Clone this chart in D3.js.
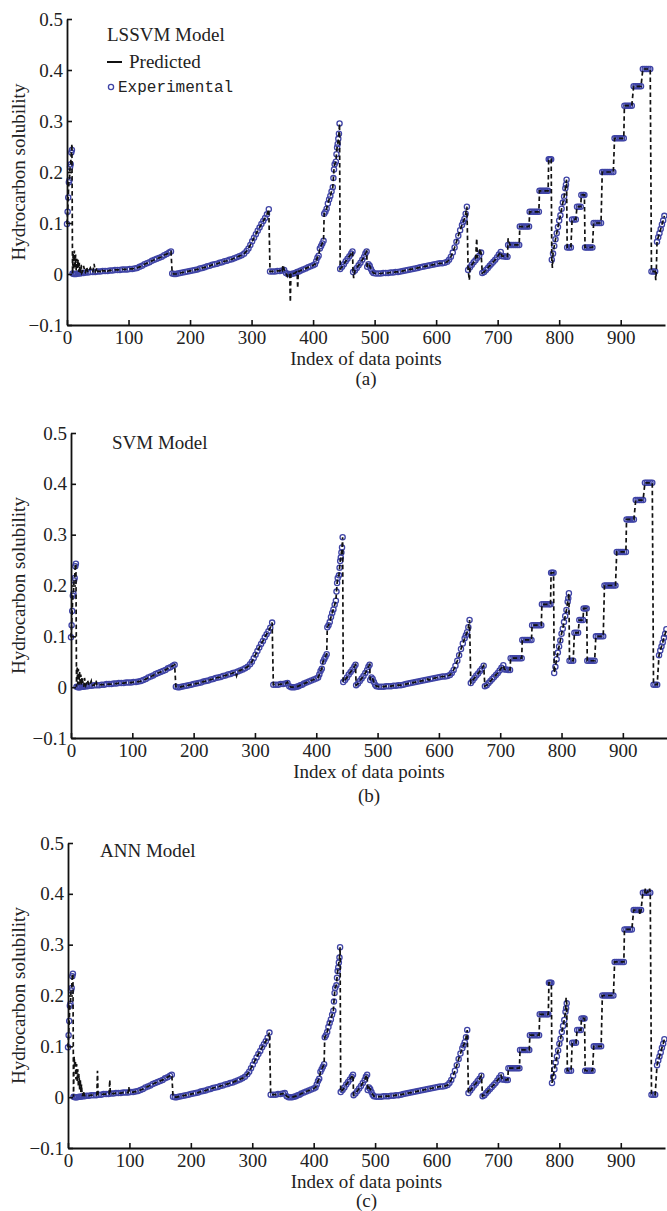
<!DOCTYPE html>
<html>
<head>
<meta charset="utf-8">
<script src="https://cdn.jsdelivr.net/npm/d3@7"></script>
<style>
  body { margin: 0; background: #fff; }
  svg { display: block; }
  .tick text { font-family: "Liberation Serif", "Times New Roman", serif; font-size: 19px; fill: #222; }
  .lbl { font-family: "Liberation Serif", "Times New Roman", serif; font-size: 19px; fill: #222; }
  .mono { font-family: "Liberation Mono", "Courier New", monospace; font-size: 16px; fill: #222; }
</style>
</head>
<body>
<svg width="667" height="1211"></svg>
<script>
// experimental solubility, [index, value]
var experimental = [
  [0,0.098],[1,0.122],[2,0.15],[3,0.18],[4,0.184],[5,0.21],[6,0.215],[7,0.238],[8,0.243],
  [9,0.001],[11,0],[13,0],[15,0],[18,0.001],[21,0.001],[24,0.002],[27,0.002],[30,0.003],[34,0.003],
  [38,0.004],[42,0.004],[46,0.004],[50,0.005],[54,0.005],[58,0.006],[62,0.006],[66,0.006],[70,0.007],
  [74,0.007],[78,0.008],[82,0.008],[86,0.008],[90,0.009],[94,0.009],[98,0.009],[102,0.01],[106,0.01],
  [110,0.011],[114,0.012],[118,0.014],[122,0.016],[126,0.019],[130,0.021],[134,0.023],[138,0.026],
  [142,0.028],[146,0.03],[150,0.032],[154,0.034],[158,0.037],[162,0.039],[166,0.042],[169,0.044],
  [171,0.001],[174,0],[177,0],[180,0.001],[184,0.002],[188,0.003],[192,0.004],[196,0.005],[200,0.006],
  [204,0.007],[208,0.008],[212,0.009],[216,0.011],[220,0.012],[224,0.013],[228,0.015],[232,0.016],
  [236,0.018],[240,0.019],[244,0.02],[248,0.022],[252,0.023],[256,0.025],[260,0.026],[264,0.028],
  [268,0.029],[272,0.031],[276,0.033],[280,0.035],[284,0.037],[288,0.04],[292,0.045],[295,0.05],
  [298,0.057],[301,0.064],[304,0.071],[307,0.078],[310,0.085],[313,0.091],[316,0.098],[319,0.104],
  [322,0.11],[325,0.117],[328,0.127],
  [330,0.005],[334,0.005],[338,0.005],[342,0.006],[346,0.006],[350,0.007],[353,0.008],[356,0.002],
  [359,0],[362,0],[365,0],[368,0.001],[371,0.002],[374,0.004],[377,0.005],[380,0.007],[384,0.009],
  [388,0.011],[392,0.013],[396,0.015],[400,0.017],[403,0.019],[405,0.025],[407,0.032],[409,0.036],
  [411,0.05],[413,0.055],[415,0.06],[417,0.065],[418,0.118],[420,0.122],[422,0.128],[424,0.138],
  [426,0.146],[428,0.153],[430,0.162],[432,0.17],[433,0.188],[434,0.205],[435,0.215],[437,0.22],
  [438,0.235],[439,0.248],[440,0.255],[441,0.265],[442,0.275],[443,0.295],
  [444,0.01],[447,0.014],[450,0.019],[453,0.025],[456,0.03],[459,0.035],[462,0.04],[464,0.044],
  [465,0.004],[468,0.007],[471,0.012],[474,0.017],[477,0.022],[480,0.028],[483,0.034],[485,0.04],[487,0.044],
  [488,0.014],[490,0.019],[492,0.016],[494,0.01],[496,0.005],
  [498,0.002],[502,0.001],[506,0.001],[510,0.001],[514,0.002],[518,0.002],[522,0.002],[526,0.003],
  [530,0.003],[534,0.004],[538,0.004],[542,0.005],[546,0.006],[550,0.007],[554,0.008],[558,0.009],
  [562,0.01],[566,0.011],[570,0.012],[574,0.013],[578,0.014],[582,0.015],[586,0.016],[590,0.017],
  [594,0.018],[598,0.019],[602,0.02],[606,0.021],[610,0.021],[614,0.022],[618,0.024],[621,0.028],
  [624,0.034],[627,0.042],[630,0.052],[633,0.063],[636,0.075],[639,0.086],[642,0.096],[644,0.102],
  [646,0.108],[648,0.118],[650,0.132],
  [652,0.008],[655,0.013],[658,0.018],[661,0.023],[664,0.027],[667,0.032],[670,0.036],[673,0.042],
  [675,0.002],[678,0.004],[681,0.008],[684,0.012],[687,0.016],[690,0.02],[693,0.024],[696,0.028],
  [699,0.033],[702,0.038],[705,0.043],
  [707,0.035],[710,0.035],[713,0.034],[716,0.034],
  [717,0.057],[720,0.057],[723,0.057],[726,0.057],[729,0.057],[732,0.057],[735,0.057],
  [736,0.093],[739,0.093],[742,0.093],[745,0.093],[748,0.093],[751,0.093],
  [752,0.122],[755,0.122],[758,0.122],[761,0.122],[764,0.122],[767,0.122],
  [768,0.163],[771,0.163],[774,0.163],[777,0.163],[780,0.163],[782,0.163],
  [783,0.225],[785,0.225],[787,0.225],
  [788,0.028],[790,0.04],[792,0.055],[794,0.068],[796,0.08],[798,0.092],[800,0.105],[802,0.115],
  [804,0.128],[806,0.14],[808,0.152],[810,0.168],[811,0.175],[812,0.185],
  [813,0.052],[816,0.052],[819,0.052],
  [821,0.107],[824,0.107],[827,0.107],
  [829,0.132],[832,0.132],[835,0.132],
  [836,0.155],[839,0.155],[841,0.155],
  [842,0.052],[845,0.052],[848,0.052],[851,0.052],[854,0.052],
  [856,0.1],[859,0.1],[862,0.1],[865,0.1],[868,0.1],
  [870,0.2],[873,0.2],[876,0.2],[879,0.2],[882,0.2],[885,0.2],[888,0.2],
  [890,0.266],[893,0.266],[896,0.266],[899,0.266],[902,0.266],[905,0.266],
  [906,0.33],[909,0.33],[912,0.33],[915,0.33],[918,0.33],
  [921,0.368],[924,0.368],[927,0.368],[930,0.368],[933,0.368],
  [936,0.402],[939,0.402],[942,0.402],[945,0.402],[948,0.402],
  [950,0.005],[953,0.005],[956,0.005],
  [959,0.063],[961,0.072],[963,0.08],[965,0.088],[967,0.097],[969,0.105],[971,0.114]
];

// where each model's prediction departs from the experimental value
var lssvmDiff = [
  [8,0.255],[10,0.04],[11,0.008],[12,0.046],[13,0.012],[14,0.038],[15,0.006],[16,0.03],[17,0.012],
  [18,0.028],[19,0.004],[20,0.022],[22,0.006],[23,0.018],[25,0.004],[27,0.016],[29,0.004],[32,0.014],
  [35,0.004],[38,0.012],[41,0.004],[44,0.02],[46,0.005],[49,0.012],[52,0.005],[56,0.01],[60,0.006],
  [64,0.009],[348,0.01],[351,0.018],[354,0.006],[358,-0.004],[361,0.002],[363,-0.055],[364,0.002],
  [373,0.004],[375,-0.028],[376,0.005],[466,-0.008],[654,-0.012],[666,0.07],[668,0.035],[671,0.05],
  [717,0.07],[789,0.012],[957,-0.012],[958,0.01]
];
var svmDiff = [
  [10,0.04],[11,0.006],[12,0.036],[13,0.005],[14,0.03],[15,0.004],[16,0.025],[17,0.004],[18,0.02],
  [20,0.004],[22,0.018],[24,0.004],[27,0.014],[29,0.004],[33,0.012],[36,0.004],[41,0.013],[43,0.004],
  [268,0.03],[270,0.022],[353,0.01],[582,0.016],[584,0.014]
];
var annDiff = [
  [10,0.08],[11,0.06],[12,0.072],[13,0.035],[14,0.065],[15,0.03],[16,0.055],[17,0.02],[18,0.045],
  [19,0.015],[20,0.035],[21,0.01],[22,0.025],[23,0.005],[25,0.012],[27,0.003],[47,0.005],[48,0.052],
  [49,0.005],[67,0.006],[68,0.034],[69,0.006],[99,0.02],[100,0.01],[811,0.196],[931,0.358],
  [940,0.41],[944,0.405],[947,0.41]
];

var yTicks = [-0.1, 0, 0.1, 0.2, 0.3, 0.4, 0.5];
var xTicks = [0, 100, 200, 300, 400, 500, 600, 700, 800, 900];
var models = ["LSSVM Model", "SVM Model", "ANN Model"];
var tags = ["(a)", "(b)", "(c)"];
var diffs = [lssvmDiff, svmDiff, annDiff];

var layout = [
  {left: 67, right: 665, top: 19, bottom: 325, titleX: 107, titleY: 41, tagY: 385},
  {left: 71, right: 667, top: 433, bottom: 738, titleX: 112, titleY: 449, tagY: 802},
  {left: 68, right: 665, top: 843, bottom: 1148, titleX: 100, titleY: 857, tagY: 1207}
];

var blue = "#3f44a6";
var svg = d3.select("svg");

function predicted(diff) {
  var m = new Map();
  experimental.forEach(function(d) { m.set(d[0], d[1]); });
  diff.forEach(function(d) { m.set(d[0], d[1]); });
  return Array.from(m.entries()).sort(function(a, b) { return a[0] - b[0]; });
}

layout.forEach(function(p, k) {
  var x = d3.scaleLinear().domain([0, 972]).range([p.left, p.right]);
  var y = d3.scaleLinear().domain([-0.1, 0.5]).range([p.bottom, p.top]);
  var g = svg.append("g");

  // experimental markers
  g.append("g").selectAll("circle")
    .data(experimental)
    .enter().append("circle")
    .attr("cx", function(d) { return x(d[0]); })
    .attr("cy", function(d) { return y(d[1]); })
    .attr("r", 2.6)
    .style("fill", "none")
    .style("stroke", blue)
    .style("stroke-width", 1.3);

  // predicted dashed line
  var line = d3.line().x(function(d) { return x(d[0]); }).y(function(d) { return y(d[1]); });
  g.append("path")
    .datum(predicted(diffs[k]))
    .attr("d", line)
    .style("fill", "none")
    .style("stroke", "#111")
    .style("stroke-width", 1.7)
    .style("stroke-dasharray", "4.5,3");

  // axes
  var yAxis = d3.axisLeft(y).tickValues(yTicks).tickSizeInner(-5).tickSizeOuter(0).tickPadding(4)
    .tickFormat(function(d) { return d === 0 ? "0" : d3.format(".1f")(d); });
  var xAxis = d3.axisBottom(x).tickValues(xTicks).tickSizeInner(-5).tickSizeOuter(0).tickPadding(6);

  var ya = g.append("g").attr("transform", "translate(" + p.left + ",0)").call(yAxis);
  var xa = g.append("g").attr("transform", "translate(0," + p.bottom + ")").call(xAxis);
  [ya, xa].forEach(function(a) {
    a.select(".domain").style("stroke", "#111").style("stroke-width", 1.8);
    a.selectAll(".tick line").style("stroke", "#111").style("stroke-width", 1.6);
  });

  g.append("text").attr("class", "lbl")
    .attr("transform", "translate(25," + (p.top + p.bottom) / 2 + ") rotate(-90)")
    .attr("text-anchor", "middle")
    .text("Hydrocarbon solubility");

  g.append("text").attr("class", "lbl")
    .attr("x", (p.left + p.right) / 2).attr("y", p.bottom + 40)
    .attr("text-anchor", "middle")
    .text("Index of data points");

  g.append("text").attr("class", "lbl")
    .attr("x", (p.left + p.right) / 2).attr("y", p.tagY)
    .attr("text-anchor", "middle")
    .text(tags[k]);

  g.append("text").attr("class", "lbl")
    .attr("x", p.titleX).attr("y", p.titleY)
    .text(models[k]);

  if (k === 0) {
    g.append("line")
      .attr("x1", 107).attr("x2", 122).attr("y1", 62).attr("y2", 62)
      .style("stroke", "#111").style("stroke-width", 2);
    g.append("text").attr("class", "lbl").attr("x", 129).attr("y", 68).text("Predicted");
    g.append("circle").attr("cx", 111).attr("cy", 87).attr("r", 2.6)
      .style("fill", "none").style("stroke", blue).style("stroke-width", 1.3);
    g.append("text").attr("class", "mono").attr("x", 118).attr("y", 92).text("Experimental");
  }
});
</script>
</body>
</html>
